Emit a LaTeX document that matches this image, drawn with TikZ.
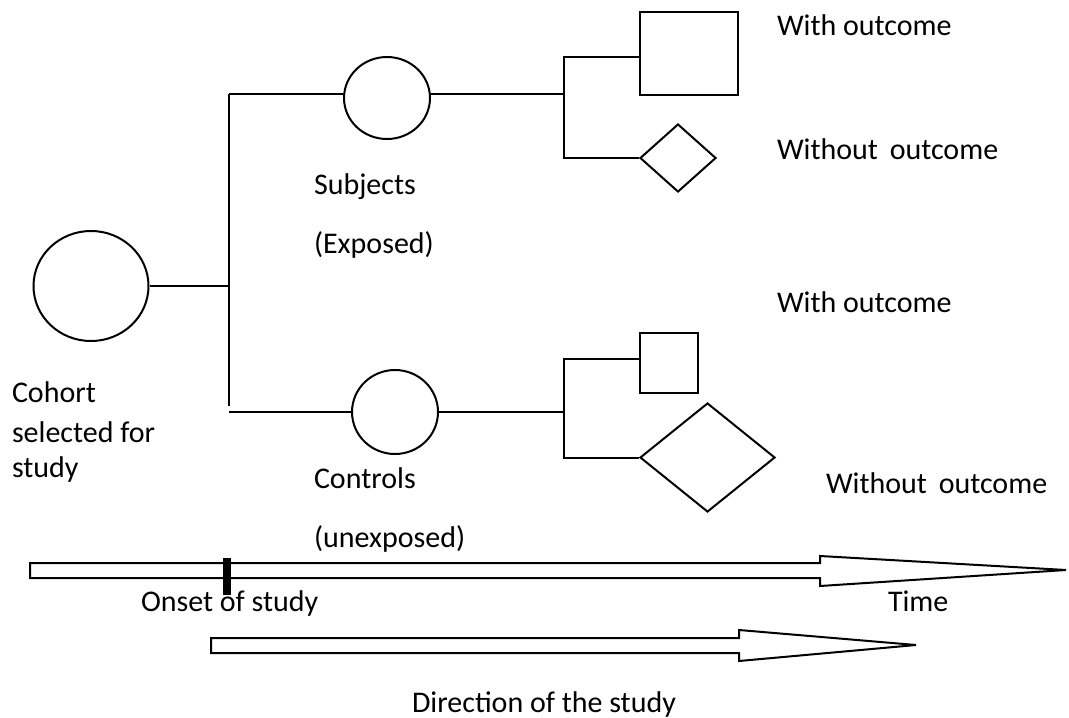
\documentclass[tikz,border=0pt]{standalone}
\usepackage{fontspec}
\setmainfont{Carlito}
\usetikzlibrary{shapes.geometric}
\begin{document}
\begin{tikzpicture}[x=0.5pt,y=-0.5pt, line width=1pt,
  circ/.style={draw, ellipse, inner sep=0pt},
  sq/.style={draw, rectangle, inner sep=0pt},
  dia/.style={draw, diamond, inner sep=0pt},
  lbl/.style={anchor=base west, inner sep=0pt, font=\fontsize{15}{18}\selectfont},
  bigarrow/.style={draw, line width=1pt, line join=miter},
  onset/.style={fill=black, draw=none}]
\useasboundingbox (0,0) rectangle (1069,717);

% shapes
\node[circ, minimum width=57.5pt, minimum height=55pt] (cohort) at (91,286) {};
\node[circ, minimum width=43pt, minimum height=41pt] (sub) at (387,98) {};
\node[circ, minimum width=43pt, minimum height=42pt] (ctrl) at (395,412) {};
\node[sq, minimum width=49pt, minimum height=41.5pt] (sqA) at (689,53.5) {};
\node[dia, minimum width=38pt, minimum height=34pt] (diaA) at (678,158) {};
\node[sq, minimum width=29pt, minimum height=30pt] (sqB) at (669,363) {};
\node[dia, minimum width=67.5pt, minimum height=54.5pt] (diaB) at (707.5,457.5) {};

% junctions
\coordinate (ja) at (229,94);
\coordinate (jb) at (229,406);
\coordinate (jc) at (229,412);
\coordinate (ka) at (564,57);
\coordinate (km) at (564,94);
\coordinate (kb) at (564,158);
\coordinate (kc) at (564,359);
\coordinate (lm) at (564,412);
\coordinate (kd) at (564,457.5);

% connectors
\draw (cohort.east) -- (cohort.east -| ja);
\draw (ja) -- (jb);
\draw (ja) -- (ja -| sub.west);
\draw (jc) -- (ctrl.west);
\draw (sub.east |- km) -- (km);
\draw (sqA.west |- ka) -- (ka) -- (kb) -- (diaA.west);
\draw (ctrl.east) -- (lm);
\draw (sqB.west |- kc) -- (kc) -- (kd) -- (diaB.west);

% labels
\node[lbl] (l1) at (776,36) {With outcome};
\node[lbl] (l2) at (776,159) {Without\, outcome};
\node[lbl] (l3) at (776,312) {With outcome};
\node[lbl] (l4) at (825,493) {Without\, outcome};
\node[lbl] (l5) at (313,194) {Subjects};
\node[lbl] (l6) at (313,253) {(Exposed)};
\node[lbl] (l7) at (11,402) {Cohort};
\node[lbl] (l8) at (11,442) {selected for};
\node[lbl] (l9) at (11,477) {study};
\node[lbl] (l10) at (313,488) {Controls};
\node[lbl] (l11) at (313,547) {(unexposed)};

% time arrow
\draw[bigarrow] (30,563) -- (820,563) -- (820,556) -- (1066,570) -- (820,586) -- (820,578) -- (30,578) -- cycle;
\fill[onset] (223,558) rectangle (231,595);
\node[lbl] (l12) at (140,611) {Onset of study};
\node[lbl] (l13) at (887,611) {Time};

% direction arrow
\draw[bigarrow] (211,638) -- (739,638) -- (739,630) -- (916,645) -- (739,661) -- (739,653) -- (211,653) -- cycle;
\node[lbl] (l14) at (411,712) {Direction of the study};
\end{tikzpicture}
\end{document}
